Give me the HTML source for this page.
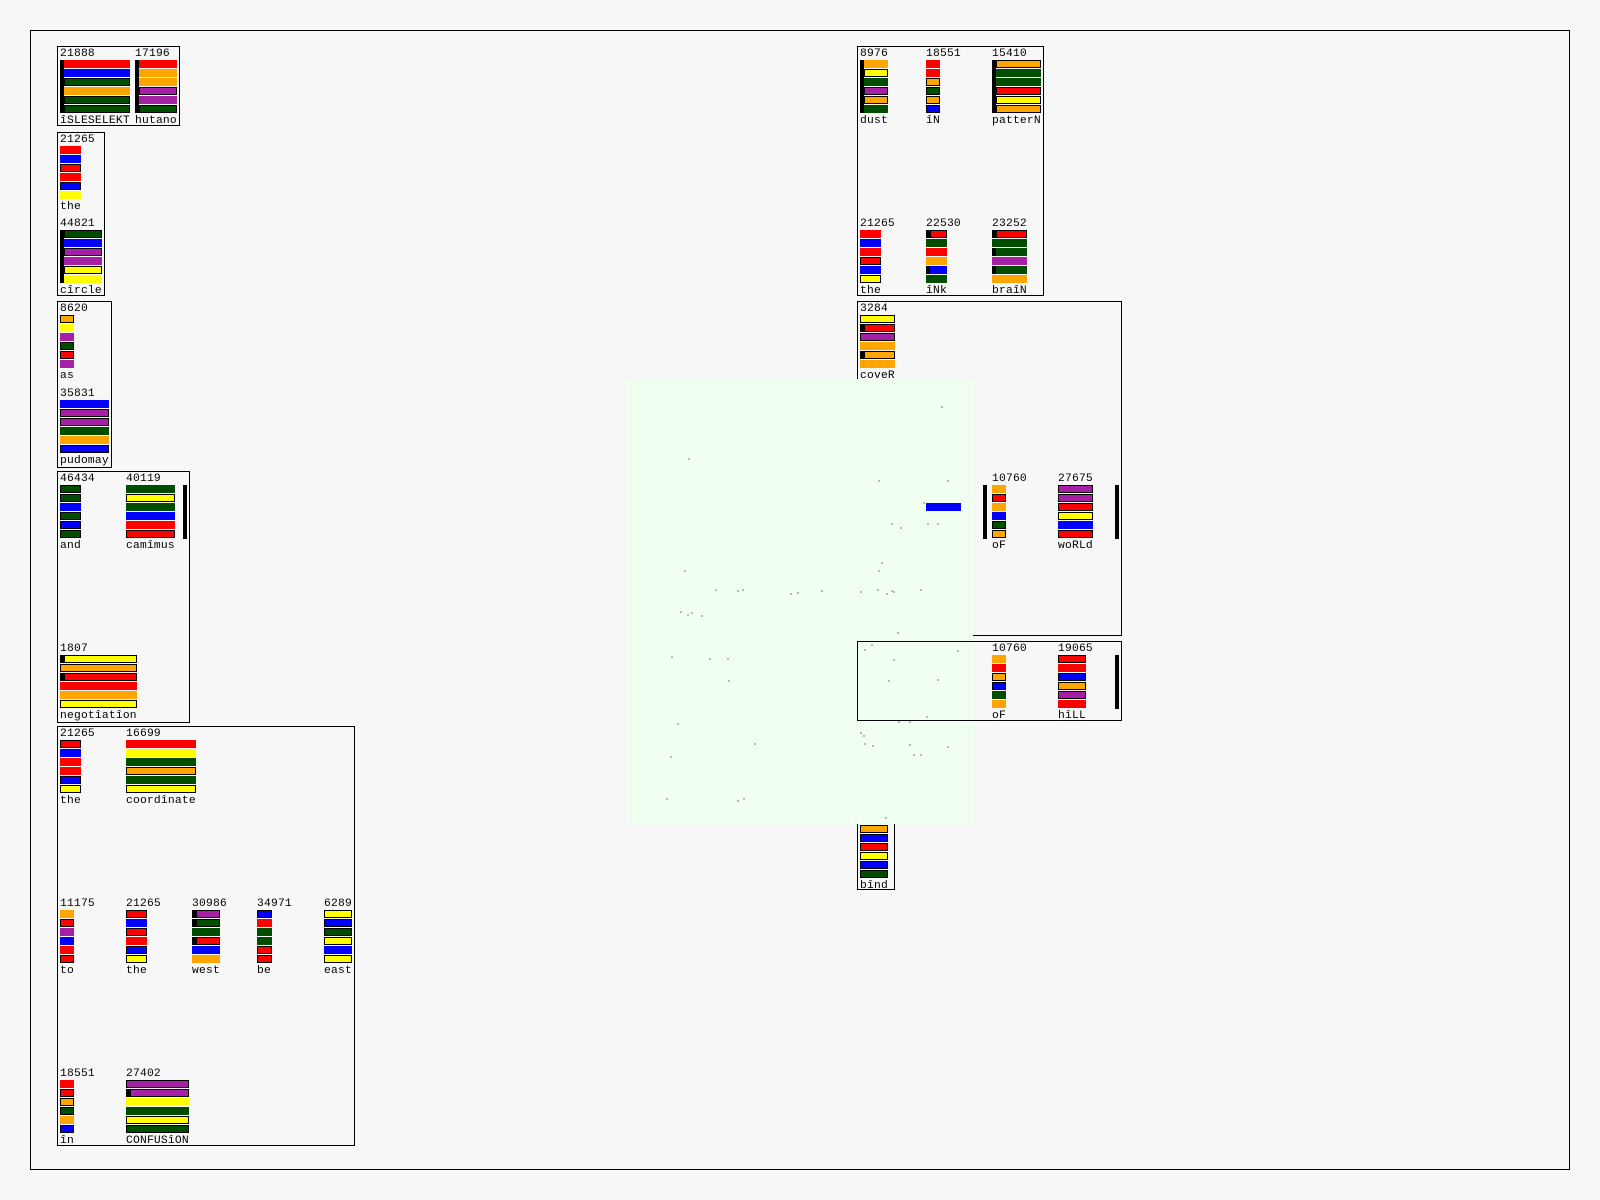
<!DOCTYPE html>
<html><head><meta charset="utf-8"><style>
html,body{margin:0;padding:0}
body{width:1600px;height:1200px;background:#f7f7f7;position:relative;overflow:hidden;font-family:"Liberation Mono","DejaVu Sans Mono",monospace;}
.f{position:absolute;left:30px;top:30px;width:1538px;height:1138px;border:1px solid #000}
.bx{position:absolute;border:1px solid #000;box-sizing:border-box}
.c{position:absolute}
.n,.l{font-size:11.3px;line-height:11px;height:11px;color:#000;white-space:nowrap;letter-spacing:0.2px}
.l{margin-top:3px}
.b i{display:block;height:8px;margin-bottom:1px;box-sizing:border-box}
.b i.o{border:1px solid #000}
.b.k{border-left:4px solid #000}
i.r{background:#ff0000}i.u{background:#0000ff}i.g{background:#004d00}i.y{background:#ffff00}i.a{background:#ffa500}i.p{background:#a520a5}
i.kk{box-shadow:inset 4px 0 #000}
.vb{position:absolute;width:4px;background:#000}
.ov{position:absolute;left:627px;top:379px;width:346px;height:446px;background:#f0fff0}
</style></head><body>
<div class="f"></div>

<div class="bx" style="left:57px;top:46px;width:123px;height:80px"></div>
<div class="c" style="left:60px;top:49px"><div class="n">21888</div><div class="b k" style="width:66px"><i class="r"></i><i class="u"></i><i class="g o"></i><i class="a"></i><i class="g o"></i><i class="g o"></i></div><div class="l">îSLESELEKT</div></div>
<div class="c" style="left:135px;top:49px"><div class="n">17196</div><div class="b k" style="width:38px"><i class="r"></i><i class="a"></i><i class="a"></i><i class="p o"></i><i class="p"></i><i class="g o"></i></div><div class="l">hutano</div></div>

<div class="bx" style="left:57px;top:132px;width:48px;height:164px"></div>
<div class="c" style="left:60px;top:135px"><div class="n">21265</div><div class="b" style="width:21px"><i class="r"></i><i class="u"></i><i class="r o"></i><i class="r"></i><i class="u o"></i><i class="y"></i></div><div class="l">the</div></div>
<div class="c" style="left:60px;top:219px"><div class="n">44821</div><div class="b k" style="width:38px"><i class="g o"></i><i class="u"></i><i class="p o"></i><i class="p"></i><i class="y o"></i><i class="y"></i></div><div class="l">cîrcle</div></div>

<div class="bx" style="left:57px;top:301px;width:55px;height:167px"></div>
<div class="c" style="left:60px;top:304px"><div class="n">8620</div><div class="b" style="width:14px"><i class="a o"></i><i class="y"></i><i class="p"></i><i class="g o"></i><i class="r o"></i><i class="p"></i></div><div class="l">as</div></div>
<div class="c" style="left:60px;top:389px"><div class="n">35831</div><div class="b" style="width:49px"><i class="u"></i><i class="p o"></i><i class="p o"></i><i class="g"></i><i class="a"></i><i class="u o"></i></div><div class="l">pudomay</div></div>

<div class="bx" style="left:57px;top:471px;width:133px;height:252px"></div>
<div class="c" style="left:60px;top:474px"><div class="n">46434</div><div class="b" style="width:21px"><i class="g o"></i><i class="g o"></i><i class="u"></i><i class="g o"></i><i class="u o"></i><i class="g o"></i></div><div class="l">and</div></div>
<div class="c" style="left:126px;top:474px"><div class="n">40119</div><div class="b" style="width:49px"><i class="g"></i><i class="y o"></i><i class="g"></i><i class="u"></i><i class="r"></i><i class="r o"></i></div><div class="l">camîmus</div></div>
<div class="vb" style="left:183px;top:485px;height:54px"></div>
<div class="c" style="left:60px;top:644px"><div class="n">1807</div><div class="b" style="width:77px"><i class="y o kk"></i><i class="a o"></i><i class="r o kk"></i><i class="r"></i><i class="a"></i><i class="y o"></i></div><div class="l">negotîatîon</div></div>

<div class="bx" style="left:57px;top:726px;width:298px;height:420px"></div>
<div class="c" style="left:60px;top:729px"><div class="n">21265</div><div class="b" style="width:21px"><i class="r o"></i><i class="u"></i><i class="r"></i><i class="r"></i><i class="u o"></i><i class="y o"></i></div><div class="l">the</div></div>
<div class="c" style="left:126px;top:729px"><div class="n">16699</div><div class="b" style="width:70px"><i class="r"></i><i class="y"></i><i class="g"></i><i class="a o"></i><i class="g"></i><i class="y o"></i></div><div class="l">coordînate</div></div>
<div class="c" style="left:60px;top:899px"><div class="n">11175</div><div class="b" style="width:14px"><i class="a"></i><i class="r o"></i><i class="p"></i><i class="u"></i><i class="r"></i><i class="r o"></i></div><div class="l">to</div></div>
<div class="c" style="left:126px;top:899px"><div class="n">21265</div><div class="b" style="width:21px"><i class="r o"></i><i class="u"></i><i class="r o"></i><i class="r"></i><i class="u o"></i><i class="y o"></i></div><div class="l">the</div></div>
<div class="c" style="left:192px;top:899px"><div class="n">30986</div><div class="b" style="width:28px"><i class="p o kk"></i><i class="g o kk"></i><i class="g"></i><i class="r o kk"></i><i class="u"></i><i class="a"></i></div><div class="l">west</div></div>
<div class="c" style="left:257px;top:899px"><div class="n">34971</div><div class="b" style="width:15px"><i class="u o"></i><i class="r"></i><i class="g"></i><i class="g"></i><i class="r o"></i><i class="r o"></i></div><div class="l">be</div></div>
<div class="c" style="left:324px;top:899px"><div class="n">6289</div><div class="b" style="width:28px"><i class="y o"></i><i class="u o"></i><i class="g o"></i><i class="y o"></i><i class="u"></i><i class="y o"></i></div><div class="l">east</div></div>
<div class="c" style="left:60px;top:1069px"><div class="n">18551</div><div class="b" style="width:14px"><i class="r"></i><i class="r o"></i><i class="a o"></i><i class="g o"></i><i class="a"></i><i class="u o"></i></div><div class="l">în</div></div>
<div class="c" style="left:126px;top:1069px"><div class="n">27402</div><div class="b" style="width:63px"><i class="p o"></i><i class="p o kk"></i><i class="y"></i><i class="g"></i><i class="y o"></i><i class="g o"></i></div><div class="l">CONFUSîON</div></div>

<div class="bx" style="left:857px;top:46px;width:187px;height:250px"></div>
<div class="c" style="left:860px;top:49px"><div class="n">8976</div><div class="b k" style="width:24px"><i class="a"></i><i class="y o"></i><i class="g"></i><i class="p o"></i><i class="a o"></i><i class="g"></i></div><div class="l">dust</div></div>
<div class="c" style="left:926px;top:49px"><div class="n">18551</div><div class="b" style="width:14px"><i class="r"></i><i class="r"></i><i class="a o"></i><i class="g o"></i><i class="a o"></i><i class="u o"></i></div><div class="l">îN</div></div>
<div class="c" style="left:992px;top:49px"><div class="n">15410</div><div class="b k" style="width:45px"><i class="a o"></i><i class="g"></i><i class="g"></i><i class="r o"></i><i class="y o"></i><i class="a o"></i></div><div class="l">patterN</div></div>
<div class="c" style="left:860px;top:219px"><div class="n">21265</div><div class="b" style="width:21px"><i class="r"></i><i class="u"></i><i class="r"></i><i class="r o"></i><i class="u"></i><i class="y o"></i></div><div class="l">the</div></div>
<div class="c" style="left:926px;top:219px"><div class="n">22530</div><div class="b" style="width:21px"><i class="r o kk"></i><i class="g"></i><i class="r"></i><i class="a"></i><i class="u kk"></i><i class="g"></i></div><div class="l">îNk</div></div>
<div class="c" style="left:992px;top:219px"><div class="n">23252</div><div class="b" style="width:35px"><i class="r o kk"></i><i class="g"></i><i class="g kk"></i><i class="p"></i><i class="g kk"></i><i class="a"></i></div><div class="l">braîN</div></div>

<div class="bx" style="left:857px;top:301px;width:265px;height:335px"></div>
<div class="c" style="left:860px;top:304px"><div class="n">3284</div><div class="b" style="width:35px"><i class="y o"></i><i class="r o kk"></i><i class="p o"></i><i class="a"></i><i class="a o kk"></i><i class="a"></i></div><div class="l">coveR</div></div>
<div class="vb" style="left:983px;top:485px;height:54px"></div>
<div class="c" style="left:992px;top:474px"><div class="n">10760</div><div class="b" style="width:14px"><i class="a"></i><i class="r o"></i><i class="a"></i><i class="u"></i><i class="g o"></i><i class="a o"></i></div><div class="l">oF</div></div>
<div class="c" style="left:1058px;top:474px"><div class="n">27675</div><div class="b" style="width:35px"><i class="p o"></i><i class="p o"></i><i class="r o"></i><i class="y o"></i><i class="u"></i><i class="r o"></i></div><div class="l">woRLd</div></div>
<div class="vb" style="left:1115px;top:485px;height:54px"></div>

<div class="ov"></div>
<svg style="position:absolute;left:0;top:0" width="1600" height="1200" shape-rendering="crispEdges">
<rect x="926" y="503" width="35" height="8" fill="#0000ff"/>
<g transform="translate(620,380) scale(0.33333)" fill="#000">
<rect x="964" y="79" width="3" height="3"/><rect x="205" y="235" width="3" height="3"/><rect x="775" y="301" width="3" height="3"/><rect x="982" y="301" width="3" height="3"/><rect x="910" y="367" width="3" height="3"/><rect x="814" y="430" width="3" height="3"/><rect x="841" y="442" width="3" height="3"/><rect x="922" y="430" width="3" height="3"/><rect x="952" y="430" width="3" height="3"/><rect x="784" y="547" width="3" height="3"/><rect x="775" y="571" width="3" height="3"/><rect x="193" y="571" width="3" height="3"/><rect x="286" y="628" width="3" height="3"/><rect x="352" y="631" width="3" height="3"/><rect x="367" y="628" width="3" height="3"/><rect x="511" y="640" width="3" height="3"/><rect x="532" y="637" width="3" height="3"/><rect x="604" y="631" width="3" height="3"/><rect x="721" y="634" width="3" height="3"/><rect x="772" y="628" width="3" height="3"/><rect x="799" y="640" width="3" height="3"/><rect x="814" y="631" width="3" height="3"/><rect x="820" y="634" width="3" height="3"/><rect x="901" y="628" width="3" height="3"/><rect x="181" y="694" width="3" height="3"/><rect x="202" y="703" width="3" height="3"/><rect x="214" y="697" width="3" height="3"/><rect x="244" y="706" width="3" height="3"/><rect x="832" y="757" width="3" height="3"/><rect x="154" y="829" width="3" height="3"/><rect x="268" y="835" width="3" height="3"/><rect x="322" y="835" width="3" height="3"/><rect x="325" y="901" width="3" height="3"/><rect x="172" y="1030" width="3" height="3"/><rect x="403" y="1090" width="3" height="3"/><rect x="151" y="1129" width="3" height="3"/><rect x="139" y="1255" width="3" height="3"/><rect x="352" y="1261" width="3" height="3"/><rect x="370" y="1255" width="3" height="3"/><rect x="721" y="1057" width="3" height="3"/><rect x="730" y="1066" width="3" height="3"/><rect x="733" y="1090" width="3" height="3"/><rect x="757" y="1096" width="3" height="3"/><rect x="868" y="1093" width="3" height="3"/><rect x="982" y="1099" width="3" height="3"/><rect x="880" y="1123" width="3" height="3"/><rect x="901" y="1123" width="3" height="3"/><rect x="796" y="1312" width="3" height="3"/><rect x="835" y="1024" width="3" height="3"/><rect x="868" y="1024" width="3" height="3"/><rect x="919" y="1009" width="3" height="3"/><rect x="733" y="808" width="3" height="3"/><rect x="754" y="793" width="3" height="3"/><rect x="1012" y="811" width="3" height="3"/><rect x="820" y="838" width="3" height="3"/><rect x="805" y="901" width="3" height="3"/><rect x="952" y="898" width="3" height="3"/>
</g>
</svg>

<div class="bx" style="left:857px;top:641px;width:265px;height:80px"></div>
<div class="c" style="left:992px;top:644px"><div class="n">10760</div><div class="b" style="width:14px"><i class="a"></i><i class="r"></i><i class="a o"></i><i class="u o"></i><i class="g"></i><i class="a"></i></div><div class="l">oF</div></div>
<div class="c" style="left:1058px;top:644px"><div class="n">19065</div><div class="b" style="width:28px"><i class="r o"></i><i class="r"></i><i class="u o"></i><i class="a o"></i><i class="p o"></i><i class="r"></i></div><div class="l">hîLL</div></div>
<div class="vb" style="left:1115px;top:655px;height:54px"></div>

<div style="position:absolute;left:857px;top:824px;width:38px;height:66px;border:1px solid #000;border-top:none;box-sizing:border-box"></div>
<div class="c" style="left:860px;top:825px"><div class="b" style="width:28px"><i class="a o"></i><i class="u o"></i><i class="r o"></i><i class="y o"></i><i class="u o"></i><i class="g o"></i></div><div class="l">bînd</div></div>
</body></html>
